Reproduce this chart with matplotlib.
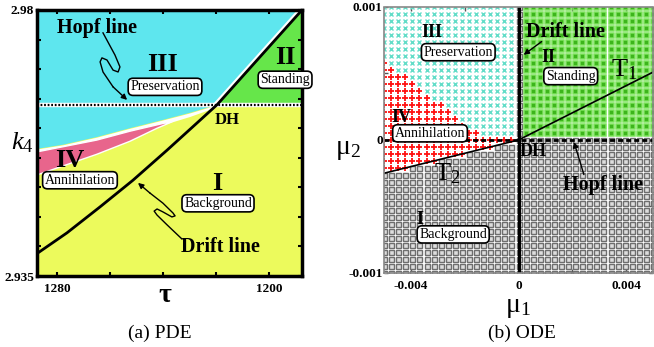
import numpy as np
import matplotlib
matplotlib.use("Agg")
import matplotlib.pyplot as plt

plt.rcParams['font.family'] = ['Liberation Serif', 'DejaVu Serif']
plt.rcParams['mathtext.fontset'] = 'custom'
plt.rcParams['mathtext.rm'] = 'Liberation Serif'
plt.rcParams['mathtext.it'] = 'Liberation Serif:italic'
plt.rcParams['mathtext.bf'] = 'Liberation Serif:bold'

# ---------------- (a) PDE : phase diagram in (tau, k4) ----------------
tau_lim = (1287.5, 1187.5)
k4_lim = (2.935, 2.98)
hopf_k4 = 2.964

# drift line (black solid)
drift_tau = [1287.5, 1276.2, 1263.7, 1251.3, 1238.4, 1227.1, 1219.5, 1187.5]
drift_k4 = [2.9388, 2.9423, 2.9467, 2.9512, 2.9563, 2.9609, 2.964, 2.98]

# lower edge of region III (cyan)
cyan_tau = [1287.5, 1277.7, 1264.9, 1252.4, 1240.0, 1229.8, 1222.3, 1219.5]
cyan_k4 = [2.9565, 2.9572, 2.9585, 2.9600, 2.9614, 2.9626, 2.9636, 2.964]
gap_k4 = [0.0009, 0.0009, 0.0009, 0.0009, 0.0008, 0.0006, 0.0004, 0.0001]

# region IV (pink wedge): top and bottom edges
pink_top_tau = [1287.5, 1264.9, 1252.4, 1240.0, 1236.5]
pink_top_k4 = [2.9560, 2.9580, 2.9595, 2.9608, 2.9611]
pink_bot_tau = [1287.5, 1264.9, 1252.4, 1242.2, 1236.5]
pink_bot_k4 = [2.9521, 2.9556, 2.9578, 2.9600, 2.9611]

c_yellow = '#ECFA5C'
c_cyan = '#5EE6EE'
c_green = '#66E64A'
c_pink = '#E8658C'

# ---------------- (b) ODE : normal form in (mu1, mu2) ----------------
mu1_lim = (-0.005, 0.005)
mu2_lim = (-0.001, 0.001)
T1_mu1 = [0.0, 0.005]
T1_mu2 = [0.0, 0.00051]
T2_mu1 = [-0.005, 0.0]
T2_mu2 = [-0.00025, 0.0]
# upper edge of the annihilation (red) zone above mu2 = 0
iv_mu1 = [-0.005, -0.0012]
iv_mu2 = [0.0006, 0.0]
n_grid = 39

fig = plt.figure(figsize=(6.54, 3.47), dpi=100)
axA = fig.add_axes([0.0566, 0.2046, 0.4052, 0.7666])
axB = fig.add_axes([0.5872, 0.2133, 0.4113, 0.7666])

# ---- panel (a)
ax = axA
ax.set_xlim(tau_lim)
ax.set_ylim(k4_lim)
ax.set_facecolor(c_yellow)

poly_tau = [tau_lim[0]] + cyan_tau + drift_tau[7:] + [tau_lim[0]]
poly_k4 = [k4_lim[1]] + cyan_k4 + drift_k4[7:] + [k4_lim[1]]
# white gap under the cyan region
ax.fill_between(cyan_tau, np.array(cyan_k4) - np.array(gap_k4), cyan_k4, color='white', lw=0)
ax.fill(poly_tau, poly_k4, color=c_cyan, lw=0)
ax.fill([drift_tau[6], drift_tau[7], tau_lim[1], tau_lim[1]],
        [hopf_k4, drift_k4[7], k4_lim[1], hopf_k4], color=c_green, lw=0)
ax.fill(pink_top_tau + pink_bot_tau[::-1], pink_top_k4 + pink_bot_k4[::-1],
        color=c_pink, ec='white', lw=1.0)
ax.plot(np.array(drift_tau[6:]) + 1.0, drift_k4[6:], color='white', lw=2.2)
ax.plot(tau_lim, [hopf_k4, hopf_k4], color='white', lw=3.2)
ax.plot(tau_lim, [hopf_k4, hopf_k4], color='black', lw=1.6, ls=(0, (0.8, 0.8)))
ax.plot(drift_tau, drift_k4, color='black', lw=2)

ax.set_xticks([1280, 1260, 1240, 1220, 1200])
ax.set_xticklabels(['1280', '', '', '', '1200'])
ax.set_yticks([2.935, 2.94, 2.945, 2.95, 2.955, 2.96, 2.965, 2.97, 2.975, 2.98])
ax.set_yticklabels(['2.935'] + [''] * 8 + ['2.98'])
ax.tick_params(direction='in', length=3, width=1.5, top=True, right=True,
               labelsize=9.5, pad=5)
ax.tick_params(axis='y', pad=2)
for lab in ax.get_xticklabels() + ax.get_yticklabels():
    lab.set_fontweight('bold')
for s in ax.spines.values():
    s.set_linewidth(2.5)

box = dict(boxstyle='round,pad=0.15,rounding_size=0.35', fc='white', ec='black', lw=1.2)
ax.text(1240, 2.9707, 'III', fontsize=19, fontweight='bold', ha='center', va='center')
ax.text(1239.2, 2.967, 'Preservation', fontsize=10, ha='center', va='center', bbox=box)
ax.text(1193.9, 2.972, 'II', fontsize=19, fontweight='bold', ha='center', va='center')
ax.text(1193.9, 2.9682, 'Standing', fontsize=10, ha='center', va='center', bbox=box)
ax.text(1215.8, 2.9614, 'DH', fontsize=12, fontweight='bold', ha='center', va='center')
ax.text(1275, 2.9546, 'IV', fontsize=19, fontweight='bold', ha='center', va='center')
ax.text(1271.3, 2.9512, 'Annihilation', fontsize=10, ha='center', va='center', bbox=box)
ax.text(1219.6, 2.9507, 'I', fontsize=19, fontweight='bold', ha='center', va='center')
ax.text(1219.2, 2.9473, 'Background', fontsize=10, ha='center', va='center', bbox=box)
ax.text(1218.4, 2.9399, 'Drift line', fontsize=14.5, fontweight='bold', ha='center', va='center')
ax.text(1264.9, 2.9769, 'Hopf line', fontsize=14.5, fontweight='bold', ha='center', va='center')

# squiggly pointer arrows (axes fraction)
hopf_wig = np.array([(0.249, 0.914), (0.294, 0.831), (0.313, 0.786), (0.306, 0.767),
                     (0.287, 0.774), (0.264, 0.812), (0.245, 0.820), (0.238, 0.805),
                     (0.249, 0.767), (0.287, 0.711), (0.340, 0.662)])
drift_wig = np.array([(0.547, 0.139), (0.491, 0.192), (0.453, 0.229), (0.442, 0.244),
                      (0.453, 0.252), (0.475, 0.241), (0.509, 0.222), (0.521, 0.226),
                      (0.513, 0.237), (0.475, 0.274), (0.426, 0.312), (0.381, 0.350)])
for w in (hopf_wig, drift_wig):
    ax.plot(w[:-1, 0], w[:-1, 1], color='black', lw=1, transform=ax.transAxes)
    ax.annotate('', xy=w[-1], xytext=w[-2], xycoords='axes fraction',
                arrowprops=dict(arrowstyle='-|>', color='black', lw=1,
                                mutation_scale=8, shrinkA=0, shrinkB=0))

# ---- panel (b)
ax = axB
ax.set_xlim(mu1_lim)
ax.set_ylim(mu2_lim)
g1, g2 = np.meshgrid(np.linspace(*mu1_lim, n_grid), np.linspace(*mu2_lim, n_grid))
g1 = g1.ravel()
g2 = g2.ravel()
iv_edge = np.interp(g1, iv_mu1, iv_mu2)
t2_edge = np.interp(g1, T2_mu1, T2_mu2)
eps = 1e-12
reg2 = (g1 > eps) & (g2 > eps)
reg3 = (g1 < -eps) & (g2 > eps) & (g2 >= iv_edge)
reg4 = (g1 < -eps) & (((g2 > eps) & (g2 < iv_edge)) | ((g2 <= eps) & (g2 >= t2_edge - eps)))
reg1 = ~(reg2 | reg3 | reg4)

ax.plot(g1[reg1], g2[reg1], 's', ms=3.6, mfc='#dddddd', mec='#6e6e6e', mew=1, ls='none')
ax.plot(g1[reg2], g2[reg2], 's', ms=3.6, mfc='#3DB51C', mec='#7BE35A', mew=1.1, ls='none')
ax.plot(g1[reg3], g2[reg3], 'x', ms=3.4, color='#62DDC8', mew=1.0, ls='none')
ax.plot(g1[reg4], g2[reg4], '+', ms=4, color='#FF1010', mew=1.3, ls='none')

ax.plot(mu1_lim, [0, 0], color='black', lw=2, ls=(0, (1.8, 1.1)))
ax.plot([0, 0], mu2_lim, color='black', lw=2.2)
ax.plot(T1_mu1, T1_mu2, color='black', lw=1.2)
ax.plot(T2_mu1, T2_mu2, color='black', lw=1.2)

ax.set_xticks([-0.004, -0.002, 0, 0.002, 0.004])
ax.set_xticklabels(['-0.004', '', '0', '', '0.004'])
ax.set_yticks([-0.001, -0.0005, 0, 0.0005, 0.001])
ax.set_yticklabels(['-0.001', '', '0', '', '0.001'])
ax.tick_params(direction='in', length=3, width=1, top=True, right=True,
               labelsize=9.5, pad=5, color='#555555')
ax.tick_params(axis='y', pad=1)
for lab in ax.get_xticklabels() + ax.get_yticklabels():
    lab.set_fontweight('bold')
for s in ax.spines.values():
    s.set_color('#888888')
    s.set_linewidth(1.2)
    s.set_linestyle((0, (3, 1)))

ax.text(-0.00321, 0.000805, 'III', fontsize=13, fontweight='bold', ha='center', va='center')
ax.text(-0.00224, 0.00066, 'Preservation', fontsize=10, ha='center', va='center', bbox=box)
ax.text(0.00112, 0.00062, 'II', fontsize=13, fontweight='bold', ha='center', va='center')
ax.text(0.00194, 0.00048, 'Standing', fontsize=10, ha='center', va='center', bbox=box)
ax.text(0.00393, 0.00053, r'T$_1$', fontsize=19, ha='center', va='center')
ax.text(-0.00434, 0.00017, 'IV', fontsize=13, fontweight='bold', ha='center', va='center')
ax.text(-0.00329, 0.00005, 'Annihilation', fontsize=10, ha='center', va='center', bbox=box)
ax.text(0.00056, -0.000085, 'DH', fontsize=13, fontweight='bold', ha='center', va='center')
ax.text(-0.00265, -0.00025, r'T$_2$', fontsize=19, ha='center', va='center')
ax.text(-0.00366, -0.0006, 'I', fontsize=13, fontweight='bold', ha='center', va='center')
ax.text(-0.00243, -0.00071, 'Background', fontsize=10, ha='center', va='center', bbox=box)
ax.text(0.00176, 0.00081, 'Drift line', fontsize=14.5, fontweight='bold', ha='center', va='center')
ax.text(0.00314, -0.00034, 'Hopf line', fontsize=14.5, fontweight='bold', ha='center', va='center')
ax.annotate('', xy=(0.00019, 0.00064), xytext=(0.00086, 0.00074),
            arrowprops=dict(arrowstyle='-|>', color='black', lw=1, mutation_scale=8,
                            shrinkA=0, shrinkB=0))
ax.annotate('', xy=(0.00206, -0.000015), xytext=(0.00243, -0.00026),
            arrowprops=dict(arrowstyle='-|>', color='black', lw=1, mutation_scale=8,
                            shrinkA=0, shrinkB=0))

# axis labels and captions
fig.text(0.034, 0.588, r'$k_4$', fontsize=19, ha='center', va='center')
fig.text(0.252, 0.147, 'τ', fontsize=20, fontweight='bold', ha='center', va='center')
fig.text(0.532, 0.568, r'$\mathregular{\mu_2}$', fontsize=20, ha='center', va='center')
fig.text(0.792, 0.115, r'$\mathregular{\mu_1}$', fontsize=20, ha='center', va='center')
fig.text(0.245, 0.040, '(a) PDE', fontsize=14, ha='center', va='center')
fig.text(0.798, 0.040, '(b) ODE', fontsize=14, ha='center', va='center')

fig.savefig('out.png', dpi=100)
